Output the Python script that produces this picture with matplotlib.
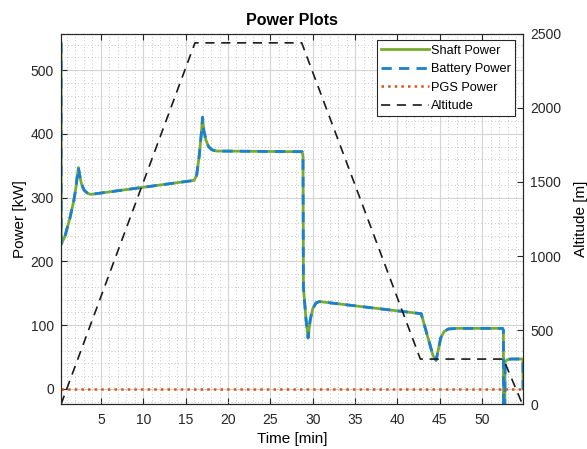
import numpy as np
import matplotlib
matplotlib.use('Agg')
import matplotlib.pyplot as plt
from matplotlib.ticker import MultipleLocator

plt.rcParams['font.family'] = ['Liberation Sans', 'DejaVu Sans']

# ---- data ----
time_min = [0.31, 0.32, 0.75, 1.35, 1.8, 2.05, 2.2, 2.35, 2.5, 2.7, 3.0, 3.4, 3.8,
            16.0, 16.3, 16.6, 16.85, 17.0, 17.15, 17.4, 17.7, 18.1, 18.6,
            28.75, 28.85, 28.9, 29.2, 29.45, 29.7, 30.0, 30.4, 30.8,
            42.8, 43.5, 44.2, 44.55, 44.8, 45.1, 45.5, 46.0, 47.0,
            52.4, 52.5, 52.52, 52.65, 52.7, 53.0, 53.4, 54.8, 54.82]
shaft_kw = [542, 227, 239, 268, 295, 315, 332, 347, 335, 322, 312, 307, 305,
            327, 335, 365, 400, 426, 405, 390, 380, 375, 373,
            372, 365, 160, 110, 80, 108, 126, 135, 137,
            118, 85, 52, 45, 60, 80, 90, 94, 95,
            95, 92, -60, -60, 43, 46, 47, 47, 0]
battery_kw = list(shaft_kw)
pgs_time = [0.3, 54.85]
pgs_kw = [0, 0]

alt_time = [0.3, 16.1, 28.7, 42.7, 52.5, 54.75]
alt_m = [0, 2438, 2438, 305, 305, 0]

green = '#77AC30'
blue = '#1a80d1'
orange = '#D95319'

fig = plt.figure(figsize=(5.87, 4.49), dpi=100)
ax = fig.add_axes([0.104, 0.0996, 0.7875, 0.8254])
ax2 = ax.twinx()

l1, = ax.plot(time_min, shaft_kw, color=green, lw=2, label='Shaft Power')
l2, = ax.plot(time_min, battery_kw, color=blue, lw=2, ls=(0, (3.7, 2.6)),
              label='Battery Power')
l3, = ax.plot(pgs_time, pgs_kw, color=orange, lw=1.8, ls=':', label='PGS Power')
l4, = ax2.plot(alt_time, alt_m, color='#1a1a1a', lw=1.2, ls=(0, (5.5, 4)),
               label='Altitude')

ax.set_xlim(0.3, 54.85)
ax.set_ylim(-24, 557)
ax2.set_ylim(0, 2500)

ax.set_xticks(np.arange(5, 55, 5))
ax.set_yticks(np.arange(0, 600, 100))
ax2.set_yticks(np.arange(0, 2600, 500))
ax.xaxis.set_minor_locator(MultipleLocator(1))
ax.yaxis.set_minor_locator(MultipleLocator(20))

ax.grid(True, which='major', color='#d4d4d4', lw=0.8, ls='-')
ax.grid(True, which='minor', color='#b5b5b5', lw=0.6, ls=(0, (1, 3)))
ax.set_axisbelow(True)

edge = '#262626'
for a in (ax, ax2):
    for s in a.spines.values():
        s.set_color(edge)
        s.set_linewidth(0.8)
ax.tick_params(which='major', direction='in', length=4, color=edge,
               labelsize=10, top=True, labelcolor='#262626')
ax.tick_params(axis='y', pad=5)
ax.tick_params(axis='x', pad=6)
ax.tick_params(which='minor', length=0)
ax2.tick_params(direction='in', length=4, color=edge, labelsize=10, pad=5,
                labelcolor='#262626')

ax.set_xlabel('Time [min]', fontsize=11, labelpad=4)
ax.set_ylabel('Power [kW]', fontsize=11, labelpad=3)
ax2.set_ylabel('Altitude [m]', fontsize=11, labelpad=9)
ax.set_title('Power Plots', fontsize=11.5, fontweight='bold', pad=6)

leg = ax2.legend(handles=[l1, l2, l3, l4], loc='upper right',
                 bbox_to_anchor=(0.983, 0.982), fontsize=9.2, frameon=True,
                 fancybox=False, framealpha=1, edgecolor='#262626',
                 handlelength=3.7, handletextpad=0.2, labelspacing=0.5,
                 borderpad=0.35, borderaxespad=0)
leg.get_frame().set_linewidth(0.8)

fig.savefig('out.png', dpi=100)
